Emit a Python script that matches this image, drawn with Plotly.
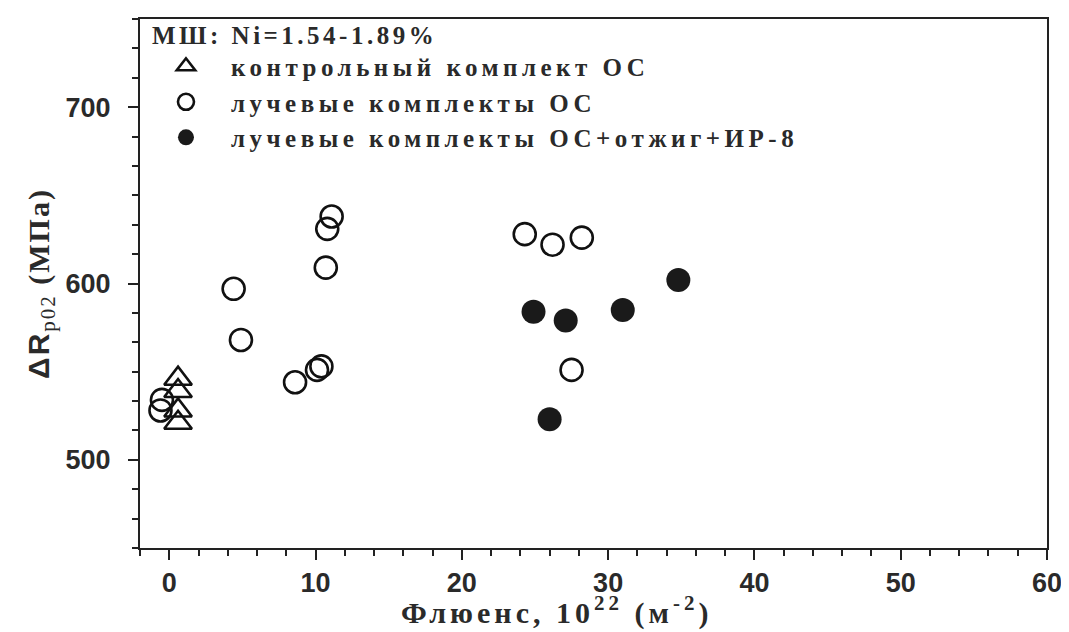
import plotly.graph_objects as go

# Data
ctrl_x = [0.6, 0.6, 0.6, 0.6]
ctrl_y = [546, 539, 528, 521]

ray_x = [-0.5, -0.6, 4.4, 4.9, 8.6, 10.1, 10.4, 10.7, 10.8, 11.1, 24.3, 26.2, 28.2, 27.5]
ray_y = [534, 528, 597, 568, 544, 551, 553, 609, 631, 638, 628, 622, 626, 551]

ann_x = [24.9, 27.1, 31.0, 34.8, 26.0]
ann_y = [584, 579, 585, 602, 523]

names = ["контрольный комплект ОС", "лучевые комплекты ОС", "лучевые комплекты ОС+отжиг+ИР-8"]
legend_title = "МШ: Ni=1.54-1.89%"
x_title = "Флюенс, 10<sup>22</sup> (м<sup>-2</sup>)"
y_title = ("<span style='font-family:Liberation Sans'>ΔR</span>"
           "<sub><span style='font-weight:normal'>p02</span></sub> (МПа)")


def wide(t, px):
    return "<span style='letter-spacing:" + str(px) + "px'>" + t + "</span>"


pad = "\u00a0" * 4
fig = go.Figure()
fig.add_trace(go.Scatter(x=ctrl_x, y=ctrl_y, mode="markers", name=pad + wide(names[0], 4.5),
                         marker=dict(symbol="triangle-up-open", size=24, color="#111",
                                     line=dict(width=2.6, color="#111"))))
fig.add_trace(go.Scatter(x=ray_x, y=ray_y, mode="markers", name=pad + wide(names[1], 4.5),
                         marker=dict(symbol="circle-open", size=22, color="#111",
                                     line=dict(width=2.6, color="#111"))))
fig.add_trace(go.Scatter(x=ann_x, y=ann_y, mode="markers", name=pad + wide(names[2], 4.5),
                         marker=dict(symbol="circle", size=24, color="#1a1a1a",
                                     line=dict(width=0))))

axis_common = dict(showline=True, linecolor="#222", linewidth=2, mirror=True,
                   ticks="outside", ticklen=10, tickwidth=2, tickcolor="#222",
                   showgrid=False, zeroline=False, automargin=False,
                   tickfont=dict(family="Liberation Sans", size=27, color="#2a2a2a",
                                 weight="bold"))

fig.update_xaxes(range=[-2, 60], dtick=10, tick0=0,
                 minor=dict(dtick=2, ticklen=6, tickwidth=2, tickcolor="#222", ticks="outside"),
                 **axis_common)
fig.update_yaxes(range=[450, 750], dtick=100, tick0=500, ticklabelstandoff=12,
                 minor=dict(dtick=100 / 6, ticklen=6, tickwidth=2, tickcolor="#222", ticks="outside"),
                 title=dict(text=wide(y_title, 2), standoff=7,
                            font=dict(family="Liberation Serif", size=30, color="#2a2a2a",
                                      weight="bold")),
                 **axis_common)

fig.add_annotation(text=wide(x_title, 4), xref="paper", yref="paper",
                   x=0.4587, y=-0.118, xanchor="center", yanchor="middle", showarrow=False,
                   font=dict(family="Liberation Serif", size=30, color="#2a2a2a", weight="bold"))

fig.update_layout(
    width=1061, height=624,
    margin=dict(l=132, r=22, t=3, b=84),
    paper_bgcolor="white", plot_bgcolor="white",
    font=dict(family="Liberation Serif", color="#2a2a2a"),
    legend=dict(x=0.011, y=1.015, xanchor="left", yanchor="top",
                bgcolor="rgba(0,0,0,0)", borderwidth=0,
                title=dict(text="<b>" + wide(legend_title, 3.5) + "</b>",
                           font=dict(family="Liberation Serif", size=25, color="#2a2a2a")),
                font=dict(family="Liberation Serif", size=25, color="#2a2a2a", weight="bold"),
                indentation=16, itemsizing="trace", tracegroupgap=0),
)

fig.write_html("out.html")
